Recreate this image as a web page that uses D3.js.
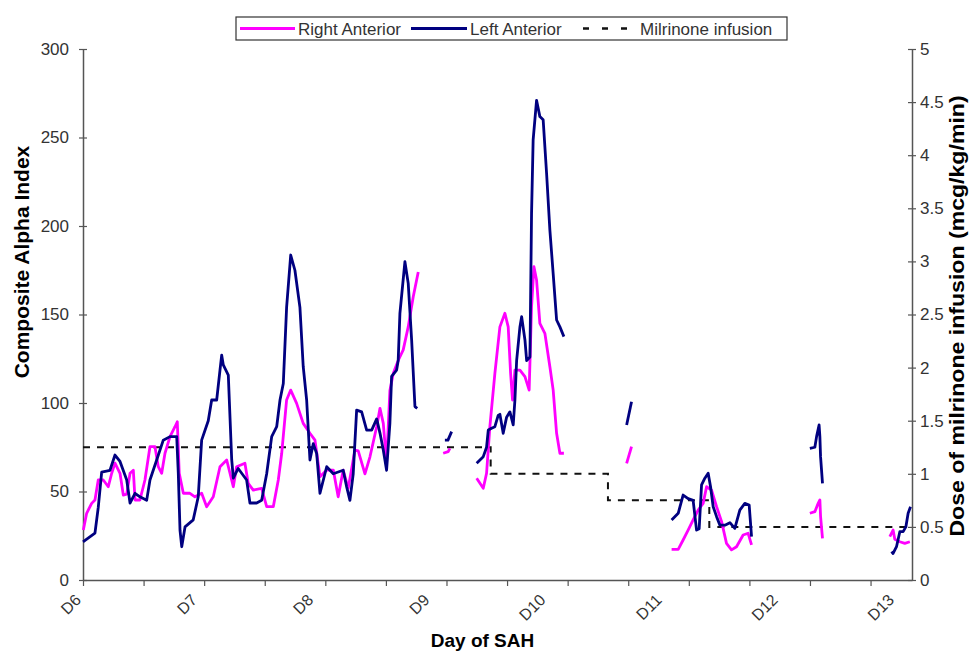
<!DOCTYPE html>
<html>
<head>
<meta charset="utf-8">
<script src="https://cdn.jsdelivr.net/npm/d3@7"></script>
<style>
  body { margin: 0; background: #fff; }
  svg { display: block; font-family: "Liberation Sans", Arial, sans-serif; }
</style>
</head>
<body>
<svg id="chart" width="973" height="655"></svg>
<script>
// x in days after start of D6
const dayLabels = ["D6", "D7", "D8", "D9", "D10", "D11", "D12", "D13"];
const dayLabelPos = [0, 1.02, 2.04, 3.06, 4.08, 5.10, 6.12, 7.14];
const leftTicks = [0, 50, 100, 150, 200, 250, 300];
const rightTicks = [0, 0.5, 1, 1.5, 2, 2.5, 3, 3.5, 4, 4.5, 5];

// Right Anterior (magenta), pieces separated by gaps in the recording
const rightAnterior = [
  [[0.003,28.2],[0.032,37.7],[0.076,43.3],[0.105,45.2],[0.134,56.5],[0.178,56.5],[0.222,52.7],[0.252,60.3],[0.281,66],[0.325,60.3],[0.354,48],[0.384,48.5],[0.413,60.3],[0.442,62],[0.457,45.2],[0.5,45.2],[0.544,56.5],[0.588,75.3],[0.632,75.3],[0.661,64],[0.691,60.3],[0.72,71.6],[0.764,81],[0.808,86.6],[0.828,89.4],[0.845,60.3],[0.881,49],[0.939,49],[0.983,47],[1.042,49],[1.086,41.4],[1.144,47],[1.203,64],[1.262,67.8],[1.32,52.7],[1.349,64],[1.422,66],[1.451,54.6],[1.495,50.8],[1.569,51.8],[1.613,41.4],[1.671,41.4],[1.715,56.5],[1.745,71.6],[1.788,101.7],[1.824,107.3],[1.876,99.8],[1.934,88.5],[1.993,82.9],[2.037,79],[2.081,58.4],[2.14,62.1],[2.198,62.1],[2.241,47],[2.285,62.1],[2.329,51.8],[2.388,73.4],[2.417,73],[2.476,60],[2.52,69.6],[2.579,86.6],[2.608,97],[2.637,88.5],[2.666,66],[2.695,107],[2.725,116.8],[2.768,124],[2.812,130],[2.856,143],[2.9,160],[2.944,174]],
  [[3.163,71.6],[3.207,72.5],[3.222,74.4]],
  [[3.457,57.5],[3.515,51.8],[3.544,60.3],[3.573,86.6],[3.617,116.8],[3.661,143],[3.705,150.7],[3.734,143],[3.755,116.8],[3.772,101.7],[3.793,118.6],[3.837,118.6],[3.881,114.9],[3.918,107.3],[3.939,154.4],[3.96,177],[3.983,169.5],[4.012,145],[4.056,139.4],[4.1,120.5],[4.129,107.3],[4.159,82.9],[4.188,71.6],[4.223,71.6]],
  [[4.774,65.9],[4.817,75.3]],
  [[5.169,17.3],[5.227,17.3],[5.27,22.6],[5.314,28.2],[5.358,33.9],[5.402,39.5],[5.446,43.3],[5.476,52.7],[5.52,50.8],[5.564,41.4],[5.608,33],[5.651,20.7],[5.695,17],[5.739,18.8],[5.797,25.4],[5.841,26.4],[5.871,19.8]],
  [[6.383,37.7],[6.427,38.6],[6.456,43.3],[6.471,45.2],[6.477,36],[6.494,23.5]],
  [[7.085,24.5],[7.114,28.2],[7.129,23],[7.173,21.6],[7.217,20.7],[7.261,21.6]]
];

// Left Anterior (navy)
const leftAnterior = [
  [[0,21.6],[0.105,26.5],[0.134,41],[0.164,61],[0.237,62],[0.281,70.6],[0.325,67],[0.384,56.5],[0.413,43.5],[0.457,49],[0.5,47],[0.559,45],[0.588,56.5],[0.647,67.8],[0.705,79],[0.764,81],[0.823,81],[0.837,60],[0.852,28],[0.867,18.8],[0.896,30],[0.968,34],[1.012,47],[1.042,79],[1.1,90],[1.13,101.7],[1.174,101.7],[1.203,118.6],[1.218,127],[1.232,121.5],[1.276,115.8],[1.306,67.8],[1.32,57.5],[1.363,63],[1.437,56.5],[1.466,43.5],[1.525,43.5],[1.569,45],[1.613,60],[1.657,81],[1.701,86.6],[1.73,101.7],[1.759,111],[1.788,154],[1.824,183.6],[1.861,175],[1.905,154],[1.934,120.5],[1.964,101.7],[1.993,67.8],[2.022,77],[2.052,71.5],[2.081,49],[2.14,64],[2.198,60],[2.241,61],[2.285,62],[2.315,52.7],[2.344,45],[2.373,60],[2.403,96],[2.447,95],[2.491,84.7],[2.535,84.7],[2.579,91],[2.608,83],[2.637,73.4],[2.666,62],[2.695,88.5],[2.71,115],[2.754,118.6],[2.768,124],[2.783,150.6],[2.827,179.8],[2.856,167.6],[2.886,135.6],[2.915,98],[2.935,97]],
  [[3.178,79],[3.205,79],[3.237,83.8]],
  [[3.457,66],[3.515,69.7],[3.544,75],[3.559,84.7],[3.588,85.7],[3.617,86.6],[3.646,93],[3.661,93.6],[3.69,82.9],[3.72,92],[3.749,95],[3.778,87.6],[3.793,101.7],[3.808,124],[3.837,143],[3.852,148.8],[3.881,135.6],[3.896,124],[3.925,126],[3.939,207],[3.953,248.6],[3.983,271],[4.012,261.8],[4.041,260],[4.071,229.8],[4.1,197.7],[4.129,173],[4.159,146.9],[4.188,143],[4.223,137.5]],
  [[4.774,87.6],[4.817,100.7]],
  [[5.169,33.9],[5.227,37.7],[5.27,48],[5.314,46],[5.358,45],[5.388,28.2],[5.411,29],[5.432,53.7],[5.461,57.5],[5.49,60.3],[5.511,52.7],[5.534,41.4],[5.564,35.8],[5.593,31],[5.637,31],[5.681,32.4],[5.724,29.2],[5.768,39.5],[5.812,43.3],[5.85,42.4],[5.871,24.5]],
  [[6.383,74.4],[6.427,75],[6.442,81],[6.464,87.6],[6.471,81],[6.477,69.7],[6.494,54.6]],
  [[7.1,16],[7.114,15],[7.144,18.8],[7.173,27.3],[7.202,27.3],[7.226,30],[7.246,37.7],[7.267,41.4]]
];

// Milrinone dose (mcg/kg/min), step changes
const milrinone = [[0,1.25],[3.58,1.0],[4.61,0.75],[5.5,0.5],[7.28,0.5]];

const margin = { top: 49, right: 61, bottom: 75, left: 83 };
const width = 973 - margin.left - margin.right;
const height = 655 - margin.top - margin.bottom;

const svg = d3.select("#chart");
const g = svg.append("g")
    .attr("transform", "translate(" + margin.left + "," + margin.top + ")");

const x = d3.scaleLinear().domain([0, 7.28]).range([0, width]);
const yL = d3.scaleLinear().domain([0, 300]).range([height, 0]);
const yR = d3.scaleLinear().domain([0, 5]).range([height, 0]);

const axisColor = "#555";
const textColor = "#333";

// x axis: tick marks every ~half day, labels per day
const xTicks = d3.range(0, 7.28, 0.532);
const xAxisG = g.append("g")
    .attr("transform", "translate(0," + height + ")")
    .call(d3.axisBottom(x).tickValues(xTicks).tickSize(6).tickSizeOuter(0).tickFormat(""));
xAxisG.select(".domain").attr("stroke", axisColor).attr("stroke-width", 1.5);
xAxisG.selectAll(".tick line").attr("stroke", axisColor).attr("stroke-width", 1.2);

g.append("g")
    .selectAll("text")
    .data(dayLabels)
    .join("text")
    .attr("transform", (d, i) => "translate(" + (x(dayLabelPos[i]) - 1) + "," + (height + 21) + ") rotate(-45)")
    .attr("text-anchor", "end")
    .attr("font-size", 16)
    .attr("fill", textColor)
    .text(d => d);

// left axis
const leftAxisG = g.append("g")
    .call(d3.axisLeft(yL).tickValues(leftTicks).tickSize(4).tickPadding(10).tickSizeOuter(0));
leftAxisG.select(".domain").attr("stroke", axisColor).attr("stroke-width", 1.5);
leftAxisG.selectAll(".tick line").attr("x1", 4).attr("stroke", axisColor).attr("stroke-width", 1.2);
leftAxisG.selectAll(".tick text").attr("font-size", 17).attr("fill", textColor).attr("font-family", "Liberation Sans, Arial, sans-serif");

// right axis
const rightAxisG = g.append("g")
    .attr("transform", "translate(" + width + ",0)")
    .call(d3.axisRight(yR).tickValues(rightTicks).tickSize(4).tickPadding(4).tickSizeOuter(0).tickFormat(d => String(d)));
rightAxisG.select(".domain").attr("stroke", axisColor).attr("stroke-width", 1.5);
rightAxisG.selectAll(".tick line").attr("x1", -4).attr("stroke", axisColor).attr("stroke-width", 1.2);
rightAxisG.selectAll(".tick text").attr("font-size", 17).attr("fill", textColor).attr("font-family", "Liberation Sans, Arial, sans-serif");

// series
const lineL = d3.line().x(d => x(d[0])).y(d => yL(d[1]));
const lineR = d3.line().x(d => x(d[0])).y(d => yR(d[1])).curve(d3.curveStepAfter);

g.append("path")
    .datum(milrinone)
    .attr("d", lineR)
    .attr("fill", "none")
    .attr("stroke", "#111")
    .attr("stroke-width", 2)
    .attr("stroke-dasharray", "7,7");

g.append("g")
    .selectAll("path")
    .data(rightAnterior)
    .join("path")
    .attr("d", lineL)
    .attr("fill", "none")
    .attr("stroke", "#ff00ff")
    .attr("stroke-width", 2.8)
    .attr("stroke-linejoin", "round");

g.append("g")
    .selectAll("path")
    .data(leftAnterior)
    .join("path")
    .attr("d", lineL)
    .attr("fill", "none")
    .attr("stroke", "#000080")
    .attr("stroke-width", 2.8)
    .attr("stroke-linejoin", "round");

// axis titles
svg.append("text")
    .attr("transform", "translate(29,262) rotate(-90)")
    .attr("text-anchor", "middle")
    .attr("font-size", 21)
    .attr("font-weight", "bold")
    .text("Composite Alpha Index");

svg.append("text")
    .attr("transform", "translate(964,316) rotate(-90) scale(1.1,1)")
    .attr("text-anchor", "middle")
    .attr("font-size", 21)
    .attr("font-weight", "bold")
    .text("Dose of milrinone infusion (mcg/kg/min)");

svg.append("text")
    .attr("x", margin.left + width / 2 - 15)
    .attr("y", 647)
    .attr("text-anchor", "middle")
    .attr("font-size", 19)
    .attr("font-weight", "bold")
    .text("Day of SAH");

// legend
const legend = svg.append("g").attr("transform", "translate(236,17)");
legend.append("rect")
    .attr("width", 551)
    .attr("height", 23)
    .attr("fill", "#fff")
    .attr("stroke", "#333")
    .attr("stroke-width", 1.2);

const legendItems = [
  { label: "Right Anterior", color: "#ff00ff", dash: null, x0: 4, x1: 59, tx: 62 },
  { label: "Left Anterior", color: "#000080", dash: null, x0: 175, x1: 231, tx: 234 },
  { label: "Milrinone infusion", color: "#111", dash: "6,13", x0: 347, x1: 391, tx: 404 }
];
legend.selectAll("line")
    .data(legendItems)
    .join("line")
    .attr("x1", d => d.x0)
    .attr("x2", d => d.x1)
    .attr("y1", 11.5)
    .attr("y2", 11.5)
    .attr("stroke", d => d.color)
    .attr("stroke-width", d => d.dash ? 2.4 : 2.8)
    .attr("stroke-dasharray", d => d.dash);
legend.selectAll("text")
    .data(legendItems)
    .join("text")
    .attr("x", d => d.tx)
    .attr("y", 17.5)
    .attr("font-size", 17)
    .attr("fill", textColor)
    .text(d => d.label);
</script>
</body>
</html>
